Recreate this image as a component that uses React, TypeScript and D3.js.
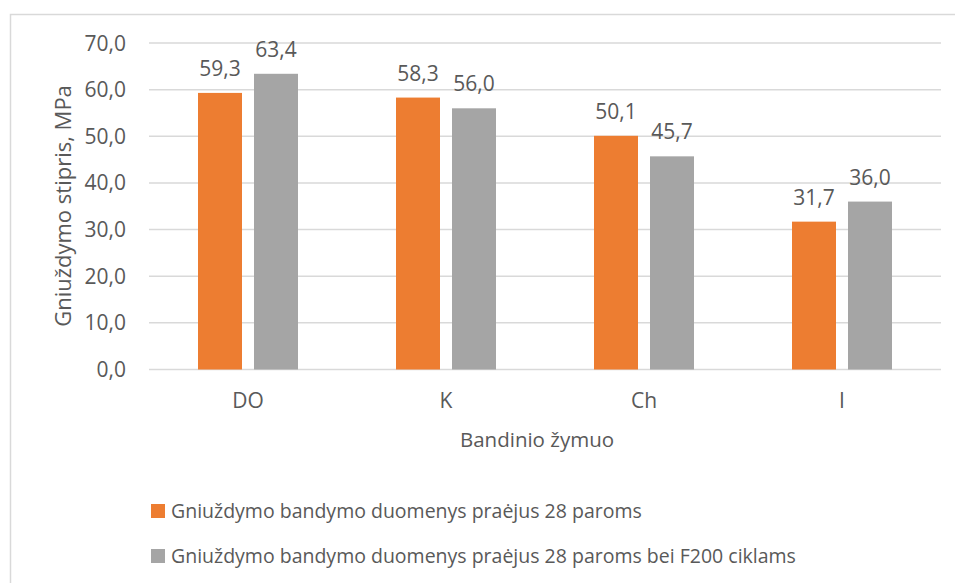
import React from "react";
import * as d3 from "d3";

const categories = ["DO", "K", "Ch", "I"];
const seriesNames = [
  "Gniuždymo bandymo duomenys praėjus 28 paroms",
  "Gniuždymo bandymo duomenys praėjus 28 paroms bei F200 ciklams",
];
const after28Days = [59.3, 58.3, 50.1, 31.7];
const afterF200 = [63.4, 56.0, 45.7, 36.0];
const yTicks = [0, 10, 20, 30, 40, 50, 60, 70];
const seriesColors = ["#ED7D31", "#A5A5A5"];

const W = 955;
const H = 583;
const FONT = "'Open Sans', sans-serif";
const TEXT = "#595959";
const GRID = "#D9D9D9";

const fmt = (v: number) => v.toFixed(1).replace(".", ",");

export default function App() {
  const plotLeft = 149;
  const plotRight = 941;
  const plotTop = 43;
  const plotBottom = 369.5;

  const x0 = d3.scaleBand<string>().domain(categories).range([plotLeft, plotRight]);
  const x1 = d3
    .scaleBand<number>()
    .domain([0, 1])
    .range([49, 149])
    .paddingInner(12 / 56);
  const y = d3.scaleLinear().domain([0, 70]).range([plotBottom, plotTop]);

  const series = [after28Days, afterF200];

  return (
    <svg
      width={W}
      height={H}
      style={{ position: "absolute", left: 0, top: 0, background: "#fff" }}
      fontFamily={FONT}
    >
      <rect x={10.5} y={14.5} width={W + 20} height={H + 20} fill="#fff" stroke={GRID} strokeWidth={1.5} />

      {yTicks.map((t) => (
        <g key={t}>
          <line x1={plotLeft} x2={plotRight} y1={y(t)} y2={y(t)} stroke={GRID} strokeWidth={1.5} />
          <text x={126} y={y(t) + 7.5} textAnchor="end" fontSize={21} fill={TEXT}>
            {fmt(t)}
          </text>
        </g>
      ))}

      {categories.map((c, i) => (
        <g key={c}>
          {series.map((vals, s) => {
            const bx = (x0(c) as number) + (x1(s) as number);
            const bw = x1.bandwidth();
            return (
              <g key={s}>
                <rect x={bx} y={y(vals[i])} width={bw} height={y(0) - y(vals[i])} fill={seriesColors[s]} />
                <text x={bx + bw / 2} y={y(vals[i]) - 17} textAnchor="middle" fontSize={21} fill={TEXT}>
                  {fmt(vals[i])}
                </text>
              </g>
            );
          })}
          <text
            x={(x0(c) as number) + x0.bandwidth() / 2}
            y={408}
            textAnchor="middle"
            fontSize={21}
            fill={TEXT}
          >
            {c}
          </text>
        </g>
      ))}

      <text x={537} y={447} textAnchor="middle" fontSize={20.5} fill={TEXT}>
        Bandinio žymuo
      </text>
      <text
        transform={`translate(71,206) rotate(-90)`}
        textAnchor="middle"
        fontSize={22}
        fill={TEXT}
      >
        Gniuždymo stipris, MPa
      </text>

      {seriesNames.map((name, s) => (
        <g key={name} transform={`translate(151,${504 + s * 45})`}>
          <rect x={0} y={0} width={14} height={14} fill={seriesColors[s]} />
          <text x={20} y={14} fontSize={19.5} fill={TEXT}>
            {name}
          </text>
        </g>
      ))}
    </svg>
  );
}
